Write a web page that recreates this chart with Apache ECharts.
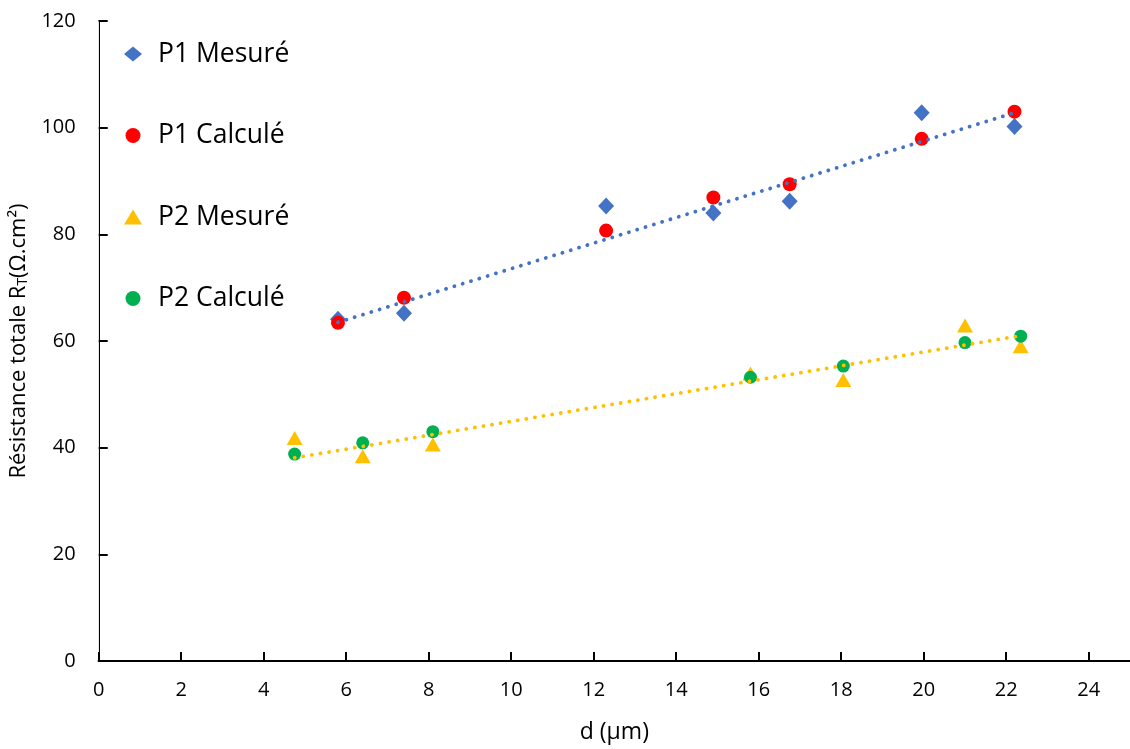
<!DOCTYPE html>
<html>
<head>
<meta charset="utf-8">
<script src="https://cdn.jsdelivr.net/npm/echarts@6/dist/echarts.min.js"></script>
<style>
html,body{margin:0;padding:0;background:#fff;}
#chart{width:1130px;height:749px;}
</style>
</head>
<body>
<div id="chart"></div>
<script>
// ---- data ----
var p1X = [5.8, 7.4, 12.3, 14.9, 16.75, 19.95, 22.2];
var p1Mesure = [64.1, 65.2, 85.3, 84.0, 86.2, 102.8, 100.2];
var p1Calcule = [63.4, 68.1, 80.7, 86.9, 89.4, 97.9, 103.0];
var p2X = [4.75, 6.4, 8.1, 15.8, 18.05, 21.0, 22.35];
var p2Mesure = [41.8, 38.4, 40.6, 53.9, 52.7, 62.9, 59.0];
var p2Calcule = [38.8, 40.9, 43.0, 53.2, 55.3, 59.7, 60.9];
// dotted trend lines (end points)
var trendP1X = [5.8, 22.2];
var trendP1Y = [63.5, 102.8];
var trendP2X = [4.75, 22.35];
var trendP2Y = [38.1, 61.0];
var seriesNames = ['P1 Mesuré', 'P1 Calculé', 'P2 Mesuré', 'P2 Calculé'];
var xTicks = [0, 2, 4, 6, 8, 10, 12, 14, 16, 18, 20, 22, 24];
var yTicks = [0, 20, 40, 60, 80, 100, 120];

function pairs(xs, ys) { return xs.map(function (x, i) { return [x, ys[i]]; }); }

var FONT = '"Open Sans", Lato, sans-serif';
var chart = echarts.init(document.getElementById('chart'), null, {renderer: 'canvas'});
var option = {
  backgroundColor: '#ffffff',
  animation: false,
  textStyle: {fontFamily: FONT},
  grid: {left: 94, top: 21, width: 1037.5, height: 643, containLabel: false},
  legend: {
    data: seriesNames,
    orient: 'vertical',
    left: 119, top: 34,
    itemWidth: 18, itemHeight: 15,
    itemGap: 51.5,
    textStyle: {fontFamily: FONT, fontSize: 26.5, color: '#000', lineHeight: 30, padding: [0, 0, 0, 11]}
  },
  xAxis: [{
    type: 'value', min: 0, max: 25, interval: 2,
    name: 'd (µm)', nameLocation: 'middle', nameGap: 60,
    nameTextStyle: {fontFamily: FONT, fontSize: 23, color: '#000'},
    axisLine: {show: true, onZero: false, lineStyle: {color: '#000', width: 2}},
    axisTick: {show: true, inside: true, length: 9, lineStyle: {color: '#000', width: 2}},
    axisLabel: {fontFamily: FONT, fontSize: 20, color: '#000', margin: 19, showMaxLabel: false,
      formatter: function (v) { return xTicks.indexOf(v) >= 0 ? String(v) : ''; }},
    splitLine: {show: false}
  }, {
    type: 'value', min: 0, max: 25, position: 'top',
    axisLine: {show: true, lineStyle: {color: '#000', width: 2}},
    axisTick: {show: false}, axisLabel: {show: false}, splitLine: {show: false}
  }],
  yAxis: [{
    type: 'value', min: 0, max: 120, interval: 20,
    name: 'Résistance totale R{sub|T}(Ω.cm²)', nameLocation: 'middle', nameGap: 57, nameRotate: 90,
    nameTextStyle: {fontFamily: FONT, fontSize: 22, color: '#000',
      rich: {sub: {fontFamily: FONT, fontSize: 14, color: '#000', padding: [9, 0, 0, 0]}}},
    axisLine: {show: true, onZero: false, lineStyle: {color: '#000', width: 2}},
    axisTick: {show: true, inside: true, length: 9, lineStyle: {color: '#000', width: 2}},
    axisLabel: {fontFamily: FONT, fontSize: 20, color: '#000', margin: 23,
      formatter: function (v) { return yTicks.indexOf(v) >= 0 ? String(v) : ''; }},
    splitLine: {show: false}
  }, {
    type: 'value', min: 0, max: 120, position: 'right',
    axisLine: {show: true, lineStyle: {color: '#e6e6e6', width: 1}},
    axisTick: {show: false}, axisLabel: {show: false}, splitLine: {show: false}
  }],
  series: [
    {name: seriesNames[0], type: 'scatter', symbol: 'diamond', symbolSize: [16, 17],
     itemStyle: {color: '#4472C4', opacity: 1}, data: pairs(p1X, p1Mesure), z: 2},
    {name: seriesNames[1], type: 'scatter', symbol: 'circle', symbolSize: 14,
     itemStyle: {color: '#FF0000', opacity: 1}, data: pairs(p1X, p1Calcule), z: 3},
    {name: seriesNames[2], type: 'scatter', symbol: 'triangle', symbolSize: [16, 14],
     itemStyle: {color: '#FFC000', opacity: 1}, data: pairs(p2X, p2Mesure), z: 2},
    {name: seriesNames[3], type: 'scatter', symbol: 'circle', symbolSize: 13,
     itemStyle: {color: '#00B050', opacity: 1}, data: pairs(p2X, p2Calcule), z: 3},
    {name: 'trendP1', type: 'line', data: pairs(trendP1X, trendP1Y), symbol: 'none', silent: true, z: 5,
     lineStyle: {color: '#4472C4', width: 3.8, type: [0.1, 8.6], cap: 'round'}},
    {name: 'trendP2', type: 'line', data: pairs(trendP2X, trendP2Y), symbol: 'none', silent: true, z: 5,
     lineStyle: {color: '#FFC000', width: 3.8, type: [0.1, 8.6], cap: 'round'}}
  ]
};
chart.setOption(option);
</script>
</body>
</html>
